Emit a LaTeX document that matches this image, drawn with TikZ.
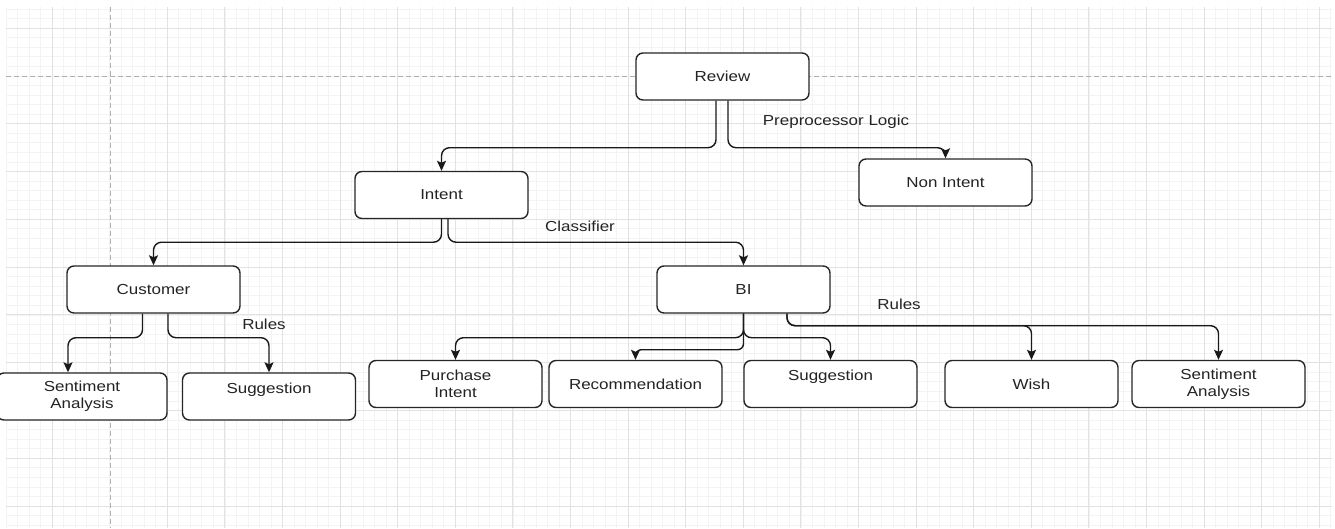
\documentclass[tikz,border=0pt]{standalone}
\usepackage{fontspec}
\setmainfont{Liberation Sans}[FakeStretch=1.17]
\usetikzlibrary{arrows.meta}
\definecolor{txt}{RGB}{35,35,35}
\definecolor{gminor}{RGB}{243,243,243}
\definecolor{gmajor}{RGB}{226,226,226}
\definecolor{pagedash}{RGB}{175,175,175}
\begin{document}
\begin{tikzpicture}[x=1pt,y=-1pt,
  box/.style={draw=black!85, line width=1.4pt, rounded corners=7pt, fill=white,
    minimum width=173pt, minimum height=47pt, align=center,
    font=\fontsize{14.5}{17}\selectfont, text=txt, inner sep=0pt},
  edge/.style={draw=black!90, line width=1.4pt, rounded corners=8pt,
    -{Stealth[length=10pt,width=9pt,inset=2pt]}},
  lbl/.style={font=\fontsize{14.5}{17}\selectfont, text=txt, inner sep=0pt},
  minorline/.style={draw=gminor, line width=0.6pt},
  majorline/.style={draw=gmajor, line width=0.7pt},
  pageline/.style={draw=pagedash, line width=0.8pt, dash pattern=on 5pt off 3pt}]
\useasboundingbox (0,0) rectangle (1335,528);
\clip (0,0) rectangle (1335,528);
% grid
\foreach \i in {1,...,116} {\pgfmathsetmacro\gx{-5.6+11.52*\i}
  \draw[minorline] (\gx,7) -- (\gx,528);}
\foreach \j in {-2,...,52} {\pgfmathsetmacro\gy{28+9.56*\j}
  \draw[minorline] (6,\gy) -- (1332,\gy);}
\foreach \k in {1,3,4,...,23} {\pgfmathsetmacro\gx{-5.6+57.6*\k}
  \draw[majorline] (\gx,7) -- (\gx,528);}
\foreach \k in {0,2,3,...,10} {\pgfmathsetmacro\gy{28+47.8*\k}
  \draw[majorline] (6,\gy) -- (1332,\gy);}
\draw[pageline] (6,76) -- (1332,76);
\draw[pageline] (110,7) -- (110,528);
% nodes
\node[box] (review) at (722.5,76.5) {Review};
\node[box] (nonint) at (945.5,182.5) {Non Intent};
\node[box] (intent) at (441.5,195) {Intent};
\node[box] (customer) at (153.5,289.5) {Customer};
\node[box] (bi) at (743.5,289.5) {BI};
\node[box, minimum width=170pt] (sentl) at (82,396.5) {Sentiment\\Analysis};
\node[box] (sugl) at (269,396.5) {Suggestion\\~};
\node[box] (purch) at (455.5,384) {Purchase\\Intent};
\node[box] (recom) at (635.5,384) {Recommendation};
\node[box] (sugr) at (830.5,384) {Suggestion\\~};
\node[box] (wish) at (1031.5,384) {Wish};
\node[box] (sentr) at (1218.5,384) {Sentiment\\Analysis};
% labels
\node[lbl] (lpre) at (836,122) {Preprocessor Logic};
\node[lbl] (lcls) at (580,226) {Classifier};
\node[lbl] (lr1) at (264,324) {Rules};
\node[lbl] (lr2) at (899,304) {Rules};
% edges
\draw[edge] ([xshift=-6.5]review.south) -- ++(0,47) -| (intent.north);
\draw[edge] ([xshift=5.5]review.south) -- ++(0,47) -| (nonint.north);
\draw[edge] (intent.south) -- ++(0,23) -| (customer.north);
\draw[edge] ([xshift=6.5]intent.south) -- ++(0,23) -| (bi.north);
\draw[edge] ([xshift=-11]customer.south) -- ++(0,24) -| ([xshift=-14]sentl.north);
\draw[edge] ([xshift=14.5]customer.south) -- ++(0,24) -| (sugl.north);
\draw[edge] (bi.south) -- ++(0,24) -| (purch.north);
\draw[edge, rounded corners=6pt] (bi.south) -- ++(0,36) -| (recom.north);
\draw[edge] (bi.south) -- ++(0,24) -| (sugr.north);
\draw[edge] ([xshift=43.5]bi.south) -- ++(0,12) -| (wish.north);
\draw[edge] ([xshift=43.5]bi.south) -- ++(0,12) -| (sentr.north);
\end{tikzpicture}
\end{document}
